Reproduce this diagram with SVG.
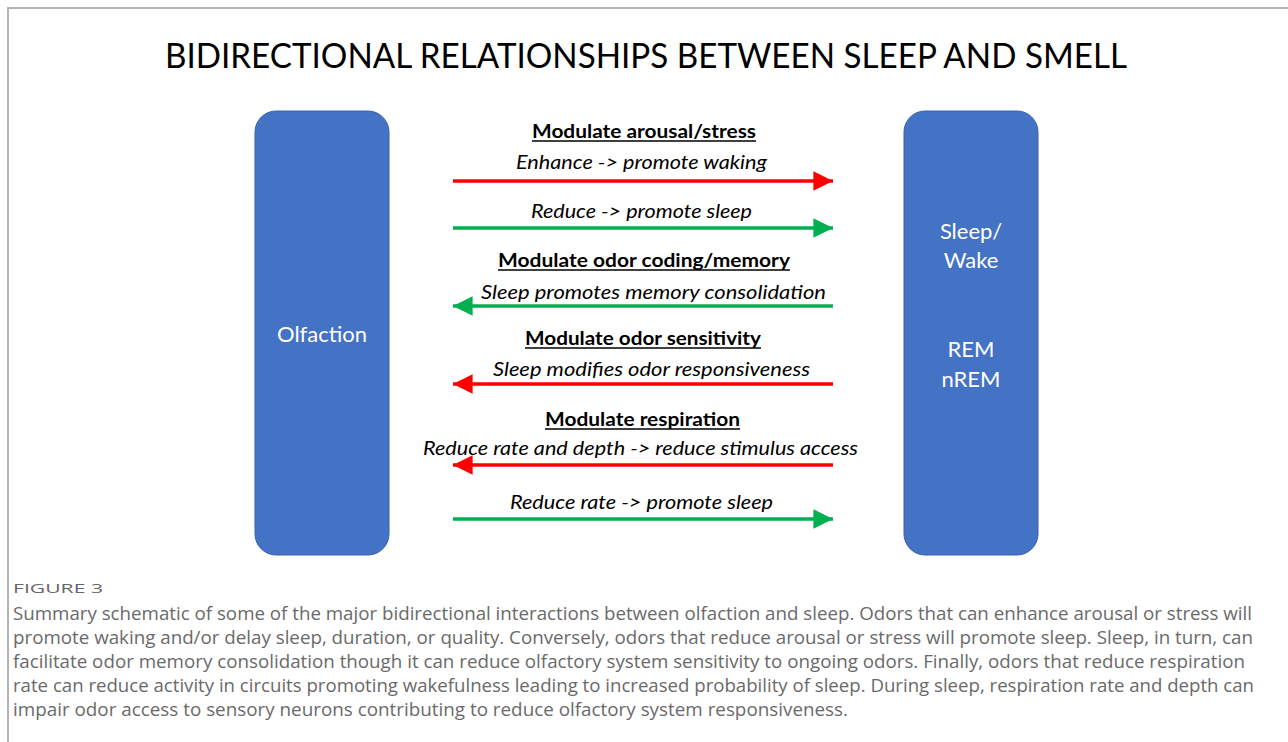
<svg xmlns="http://www.w3.org/2000/svg" width="1288" height="742" viewBox="0 0 1288 742">
  <style>
    .frame { stroke: #b3b3b3; stroke-width: 2; fill: none; }
    .box { fill: #4472c4; stroke: #3a62a8; stroke-width: 1; }
    .boxlabel { font-family: Lato, "Open Sans", sans-serif; font-size: 22px; fill: #ffffff; text-anchor: middle; }
    .title { font-family: Lato, "Open Sans", sans-serif; font-size: 35px; fill: #000000; }
    .head { font-family: Lato, "Open Sans", sans-serif; font-weight: bold; font-size: 18px; fill: #000000; }
    .ul { stroke: #000000; stroke-width: 1.4; }
    .lbl { font-family: Lato, "Open Sans", sans-serif; font-style: italic; font-size: 19px; fill: #000000; }
    .red { stroke: #ff0000; stroke-width: 3.5; fill: none; }
    .green { stroke: #00b050; stroke-width: 3.5; fill: none; }
    .fig { font-family: "Open Sans", Lato, sans-serif; font-size: 13px; fill: #666666; }
    .cap { font-family: "Open Sans", Lato, sans-serif; font-size: 18px; fill: #6a6a6a; }
  </style>
  <defs>
    <marker id="ahRed" viewBox="0 0 10 10" refX="10" refY="5" markerWidth="5.6" markerHeight="5.6" markerUnits="strokeWidth" orient="auto">
      <path d="M0,0 L10,5 L0,10 Z" fill="#ff0000"/>
    </marker>
    <marker id="ahGreen" viewBox="0 0 10 10" refX="10" refY="5" markerWidth="5.6" markerHeight="5.6" markerUnits="strokeWidth" orient="auto">
      <path d="M0,0 L10,5 L0,10 Z" fill="#00b050"/>
    </marker>
  </defs>

  <rect width="1288" height="742" fill="#ffffff"/>
  <!-- page frame: top and left rules -->
  <path class="frame" d="M8,742 L8,8 L1288,8"/>

  <text class="title" x="165" y="68" textLength="962" lengthAdjust="spacingAndGlyphs">BIDIRECTIONAL RELATIONSHIPS BETWEEN SLEEP AND SMELL</text>

  <g id="olfaction">
    <rect class="box" x="255" y="111" width="134" height="444" rx="21"/>
    <text class="boxlabel" x="322" y="342">Olfaction</text>
  </g>

  <g id="sleep-wake">
    <rect class="box" x="904" y="111" width="134" height="444" rx="21"/>
    <text class="boxlabel" x="971" y="239">Sleep/</text>
    <text class="boxlabel" x="971" y="268">Wake</text>
    <text class="boxlabel" x="971" y="357">REM</text>
    <text class="boxlabel" x="971" y="387">nREM</text>
  </g>

  <g id="connectors">
    <line class="red" x1="453" y1="181" x2="833" y2="181" marker-end="url(#ahRed)"/>
    <line class="green" x1="453" y1="228" x2="833" y2="228" marker-end="url(#ahGreen)"/>
    <line class="green" x1="833" y1="306" x2="453" y2="306" marker-end="url(#ahGreen)"/>
    <line class="red" x1="833" y1="384" x2="453" y2="384" marker-end="url(#ahRed)"/>
    <line class="red" x1="833" y1="465" x2="453" y2="465" marker-end="url(#ahRed)"/>
    <line class="green" x1="453" y1="519" x2="833" y2="519" marker-end="url(#ahGreen)"/>
  </g>

  <g id="labels">
    <text class="head" x="532" y="138" textLength="224" lengthAdjust="spacingAndGlyphs">Modulate arousal/stress</text>
    <line class="ul" x1="532" y1="141" x2="756" y2="141"/>
    <text class="lbl" x="516" y="169" textLength="251" lengthAdjust="spacingAndGlyphs">Enhance -&gt; promote waking</text>
    <text class="lbl" x="531" y="218" textLength="221" lengthAdjust="spacingAndGlyphs">Reduce -&gt; promote sleep</text>

    <text class="head" x="498" y="267" textLength="292" lengthAdjust="spacingAndGlyphs">Modulate odor coding/memory</text>
    <line class="ul" x1="498" y1="270" x2="790" y2="270"/>
    <text class="lbl" x="481" y="299" textLength="345" lengthAdjust="spacingAndGlyphs">Sleep promotes memory consolidation</text>

    <text class="head" x="525" y="345" textLength="236" lengthAdjust="spacingAndGlyphs">Modulate odor sensitivity</text>
    <line class="ul" x1="525" y1="348" x2="761" y2="348"/>
    <text class="lbl" x="493" y="376" textLength="317" lengthAdjust="spacingAndGlyphs">Sleep modifies odor responsiveness</text>

    <text class="head" x="545" y="426" textLength="195" lengthAdjust="spacingAndGlyphs">Modulate respiration</text>
    <line class="ul" x1="545" y1="429" x2="740" y2="429"/>
    <text class="lbl" x="423" y="455" textLength="435" lengthAdjust="spacingAndGlyphs">Reduce rate and depth -&gt; reduce stimulus access</text>
    <text class="lbl" x="510" y="509" textLength="263" lengthAdjust="spacingAndGlyphs">Reduce rate -&gt; promote sleep</text>
  </g>

  <g id="caption">
    <text class="fig" x="13" y="593" textLength="90" lengthAdjust="spacingAndGlyphs">FIGURE 3</text>
    <text class="cap" x="13" y="620" textLength="1239" lengthAdjust="spacingAndGlyphs">Summary schematic of some of the major bidirectional interactions between olfaction and sleep. Odors that can enhance arousal or stress will</text>
    <text class="cap" x="13" y="644" textLength="1240" lengthAdjust="spacingAndGlyphs">promote waking and/or delay sleep, duration, or quality. Conversely, odors that reduce arousal or stress will promote sleep. Sleep, in turn, can</text>
    <text class="cap" x="13" y="668" textLength="1232" lengthAdjust="spacingAndGlyphs">facilitate odor memory consolidation though it can reduce olfactory system sensitivity to ongoing odors. Finally, odors that reduce respiration</text>
    <text class="cap" x="13" y="692" textLength="1241" lengthAdjust="spacingAndGlyphs">rate can reduce activity in circuits promoting wakefulness leading to increased probability of sleep. During sleep, respiration rate and depth can</text>
    <text class="cap" x="13" y="716" textLength="835" lengthAdjust="spacingAndGlyphs">impair odor access to sensory neurons contributing to reduce olfactory system responsiveness.</text>
  </g>
</svg>
